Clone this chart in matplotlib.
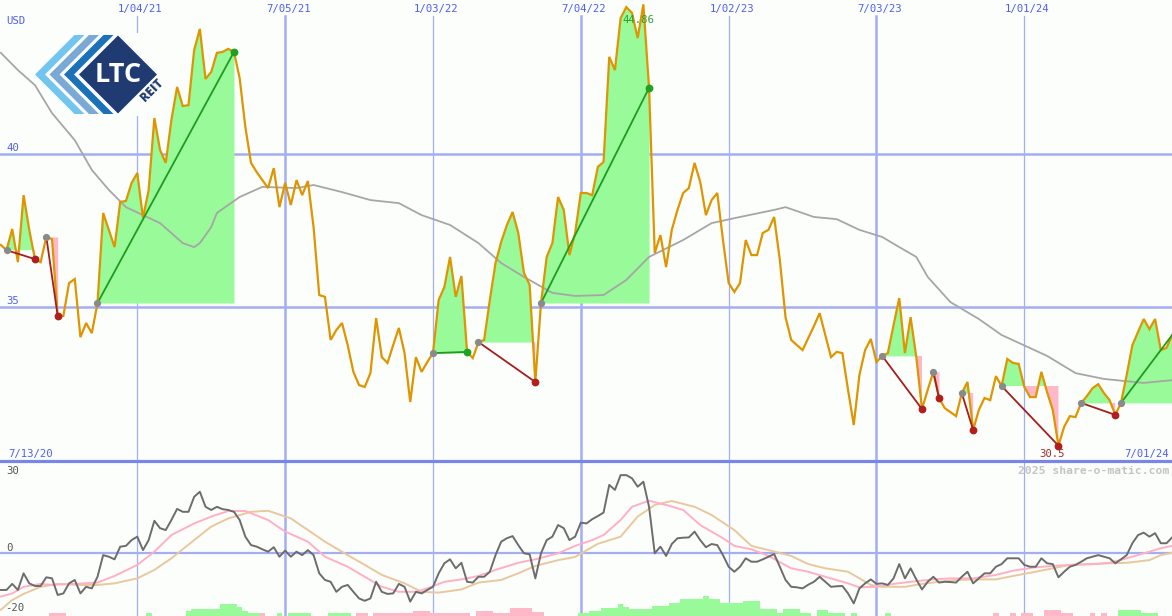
import numpy as np
import matplotlib
matplotlib.use("Agg")
import matplotlib.pyplot as plt
from matplotlib.patches import Polygon, Rectangle

# ---------------- data ----------------
weeks = np.arange(1, 208)          # weekly index, week 0 = 7/13/20
price = np.array([
    37.03, 36.86, 37.55, 36.47, 38.65, 37.52, 36.57, 36.47, 37.29, 37.22,
    34.72, 34.72, 35.79, 35.92, 34.03, 34.49, 34.16, 35.14, 38.07, 37.52,
    36.96, 38.43, 38.46, 39.05, 39.37, 37.91, 38.82, 41.16, 40.12, 39.70,
    41.10, 42.17, 41.55, 41.58, 43.37, 44.06, 42.43, 42.66, 43.28, 43.31,
    43.41, 43.31, 42.46, 40.87, 39.70, 39.40, 39.14, 38.88, 39.53, 38.26,
    39.05, 38.33, 39.14, 38.65, 39.11, 37.61, 35.40, 35.34, 33.94, 34.26,
    34.49, 33.77, 32.90, 32.47, 32.41, 32.86, 34.65, 33.38, 33.19, 33.77,
    34.33, 33.51, 31.92, 33.38, 32.90, 33.22, 33.51, 35.24, 35.66, 36.64,
    35.34, 36.02, 33.55, 33.35, 33.87, 33.94, 35.24, 36.44, 37.13, 37.68,
    38.10, 37.42, 36.12, 35.73, 32.57, 35.14, 36.64, 37.09, 38.59, 38.17,
    36.70, 37.42, 38.72, 38.72, 38.65, 39.57, 39.73, 43.15, 42.72, 44.41,
    44.77, 44.58, 43.76, 44.86, 42.14, 36.77, 37.35, 36.31, 37.52, 38.17,
    38.72, 38.88, 39.70, 39.08, 38.00, 38.49, 38.72, 37.19, 35.79, 35.50,
    35.79, 37.19, 36.70, 36.70, 37.42, 37.52, 37.94, 36.54, 34.68, 33.94,
    33.77, 33.61, 34.00, 34.39, 34.81, 34.10, 33.38, 33.55, 33.51, 32.31,
    31.17, 32.80, 33.61, 33.97, 33.22, 33.42, 33.51, 34.42, 35.30, 33.51,
    34.68, 33.38, 31.69, 32.31, 32.90, 32.05, 31.72, 31.59, 31.46, 32.21,
    32.57, 31.01, 31.66, 32.05, 31.98, 32.76, 32.44, 33.32, 33.19, 33.16,
    32.41, 32.08, 32.08, 32.90, 32.24, 31.66, 30.50, 31.11, 31.46, 31.43,
    31.89, 32.11, 32.37, 32.50, 32.21, 31.98, 31.50, 31.89, 32.80, 33.77,
    34.20, 34.62, 34.29, 34.62, 33.61, 33.68, 34.10])

ma_weeks = [1, 4, 7, 10, 14, 17, 20, 23, 29, 33, 35, 36, 38, 39, 43, 47, 53, 56,
            61, 66, 71, 75, 80, 85, 89, 93, 98, 102, 107, 111, 115, 121, 126,
            131, 137, 139, 144, 148, 152, 156, 159, 162, 164, 168, 173, 177,
            185, 190, 195, 202, 207]
ma_vals = [43.28, 42.72, 42.23, 41.32, 40.44, 39.47, 38.82, 38.26, 37.74, 37.09,
           36.96, 37.09, 37.61, 38.07, 38.59, 38.92, 38.88, 38.98, 38.75, 38.49,
           38.39, 38.00, 37.68, 37.09, 36.44, 35.99, 35.47, 35.37, 35.40, 35.89,
           36.64, 37.19, 37.74, 37.94, 38.17, 38.26, 37.94, 37.87, 37.52, 37.29,
           36.96, 36.64, 35.99, 35.17, 34.62, 34.10, 33.42, 32.86, 32.67, 32.54,
           32.63]

# trend segments (start week, end week)
trend_start = [2, 9, 18, 77, 85, 96, 156, 165, 170, 177, 191, 198]
trend_end = [7, 11, 42, 83, 95, 115, 163, 166, 172, 187, 197, 207]

osc = np.array([
    -14.0, -14.0, -11.7, -14.0, -7.7, -11.5, -12.5, -12.5, -9.2, -9.6,
    -15.9, -15.3, -11.5, -10.2, -15.3, -12.8, -13.4, -9.0, -0.8, -1.4,
    -2.4, 2.4, 2.7, 4.9, 6.2, 1.1, 4.9, 12.2, 9.4, 8.7,
    12.5, 16.7, 15.6, 15.6, 21.3, 23.2, 17.5, 16.3, 17.5, 16.6,
    16.3, 15.6, 12.5, 6.2, 3.0, 2.4, 1.4, 0.5, 2.2, -1.4,
    0.9, -1.4, 0.5, -0.8, 1.1, -0.8, -7.7, -10.2, -10.9, -14.7,
    -12.8, -12.1, -14.7, -17.2, -18.1, -17.2, -10.9, -14.7, -15.5, -15.3,
    -11.7, -12.8, -18.4, -14.7, -15.3, -14.0, -12.8, -7.7, -3.9, -2.4,
    -5.8, -3.7, -10.9, -11.2, -9.0, -9.0, -7.1, -0.8, 4.3, 5.6,
    6.4, 3.0, -0.1, -0.5, -9.6, -0.1, 4.9, 6.2, 10.6, 9.4,
    4.9, 6.2, 11.5, 11.2, 12.8, 14.0, 15.3, 25.8, 23.9, 29.5,
    29.5, 28.3, 25.1, 27.0, 17.5, -0.1, 2.4, -1.1, 3.4, 5.6,
    5.8, 5.9, 8.1, 4.9, 2.2, 3.4, 3.0, -0.8, -5.2, -7.1,
    -5.2, -2.0, -3.3, -3.3, -2.4, -1.4, -0.4, -5.2, -10.2, -12.8,
    -13.0, -13.4, -12.0, -10.9, -9.0, -10.9, -12.8, -12.6, -12.5, -15.3,
    -19.1, -13.4, -11.5, -10.0, -11.7, -11.5, -12.1, -9.6, -4.2, -9.6,
    -5.8, -10.0, -13.8, -10.9, -9.0, -11.2, -10.9, -11.0, -11.2, -9.0,
    -7.1, -11.5, -9.6, -7.7, -7.7, -5.2, -4.2, -2.0, -2.0, -2.0,
    -4.5, -5.2, -5.2, -2.0, -3.9, -4.2, -9.2, -7.1, -5.2, -4.5,
    -3.3, -2.0, -1.4, -0.8, -1.4, -2.0, -3.9, -2.4, -0.8, 3.7,
    6.8, 7.7, 6.2, 7.5, 3.7, 3.7, 5.9])

sig_pink_weeks = [1, 3, 5, 8, 10, 14, 18, 21, 25, 28, 31, 35, 38, 41, 44, 48, 51,
                  55, 58, 62, 65, 68, 71, 74, 76, 79, 82, 85, 88, 92, 95, 99, 102,
                  105, 107, 110, 112, 115, 118, 121, 124, 128, 130, 133, 136, 140,
                  143, 146, 150, 152, 155, 158, 161, 165, 168, 172, 176, 179, 183,
                  186, 189, 193, 196, 199, 203, 205, 207]
sig_pink_vals = [-16.5, -15.3, -12.8, -11.7, -12.1, -11.7, -11.2, -8.7, -4.5, 0.5,
                 6.8, 11.2, 13.8, 15.9, 15.9, 12.5, 8.1, 4.3, -1.4, -5.2,
                 -9.0, -12.8, -14.7, -14.7, -13.4, -10.9, -10.0, -8.7, -6.4, -3.7,
                 -2.4, -0.1, 2.7, 4.9, 6.8, 12.5, 17.5, 19.8, 18.2, 16.3,
                 10.6, 5.6, 2.7, 1.4, -1.1, -5.8, -7.1, -9.0, -11.5, -13.0,
                 -12.8, -11.7, -10.9, -10.0, -9.6, -9.6, -8.3, -6.7, -5.4, -4.9,
                 -4.5, -4.2, -3.7, -2.0, 0.5, 1.8, 2.7]

sig_tan_weeks = [1, 3, 5, 8, 11, 15, 18, 21, 25, 28, 31, 35, 38, 41, 45, 48, 52, 55,
                 58, 62, 65, 68, 72, 75, 78, 82, 85, 89, 92, 95, 99, 102, 104, 106,
                 110, 113, 116, 119, 123, 126, 130, 133, 136, 140, 143, 146, 150,
                 154, 156, 160, 163, 166, 169, 173, 176, 179, 183, 186, 189, 193,
                 196, 199, 203, 205, 207]
sig_tan_vals = [-21.5, -17.8, -15.5, -12.8, -11.7, -12.1, -12.1, -11.5, -9.6, -6.4,
                -2.0, 4.9, 10.0, 13.1, 15.6, 16.0, 13.1, 8.7, 4.3, -0.8,
                -4.5, -8.3, -11.5, -14.7, -15.0, -13.8, -11.2, -10.2, -7.7, -4.9,
                -2.7, -1.5, 1.0, 3.5, 6.2, 13.8, 18.2, 19.7, 17.5, 14.4,
                8.7, 2.7, 1.1, -1.1, -4.2, -5.8, -7.1, -12.1, -12.8, -12.8,
                -11.7, -10.9, -10.2, -10.0, -10.0, -8.7, -7.1, -5.8, -4.5, -4.2,
                -3.9, -3.7, -2.7, -0.8, 0.1]

bars = np.array([
    0, 0, 0, 0, 0, 0, 0, 0, 0, -1.0,
    -1.0, -1.0, 0, 0, 0, 0, 0, 0, 0, 0,
    0, 0, 0, 0, 0, 0, 1.0, 0, 0, 0,
    0, 0, 0, 2.0, 2.65, 2.65, 2.65, 2.65, 2.65, 4.5,
    4.5, 4.5, 3.5, 2.0, 1.25, 1.25, -1.0, 0, 0, 1.0,
    0, 1.25, 1.25, 1.25, 1.25, 0, 0, 0, 1.25, 1.25,
    1.25, 1.25, 0, -1.0, -1.0, 0, -1.0, -1.0, -1.0, -1.0,
    -1.0, -1.0, -1.0, -1.9, -1.9, -1.9, -1.0, -1.0, -1.0, -1.0,
    -1.0, -1.25, -1.25, 0, -1.9, -1.9, -1.9, -1.0, -1.0, -1.0,
    -3.0, -3.0, -3.0, -3.0, -1.5, -1.5, 0, 0, 0, 0,
    0, 0, 1.0, 1.0, 2.0, 2.0, 2.9, 2.9, 2.9, 4.5,
    3.5, 2.5, 2.5, 2.5, 2.5, 3.8, 3.8, 3.8, 5.0, 5.0,
    6.3, 6.3, 6.3, 6.3, 7.6, 6.3, 6.3, 4.8, 4.8, 4.8,
    4.8, 5.7, 5.7, 5.7, 2.5, 2.5, 2.5, 1.25, 2.5, 2.5,
    2.5, 1.25, 1.25, 0, 2.3, 2.3, 1.25, 1.25, 1.25, 0,
    1.25, 0, 0, 0, 0, 0, 1.25, 0, 0, 0,
    0, 0, 0, 0, 0, 0, 0, 0, 0, 0,
    0, 0, 0, 0, 0, -1.25, 0, 0, -1.25, 0,
    -1.25, -1.25, 0, 0, -2.3, -2.3, -2.3, -1.25, -1.25, 0,
    0, 0, -1.25, 0, -1.25, 0, 0, 2.3, 2.3, 2.3,
    2.3, 1.25, 1.25, 1.25, 0, 0, 0])

grid_weeks = [25, 51, 77, 103, 129, 155, 181]
grid_labels = ["1/04/21", "7/05/21", "1/03/22", "7/04/22", "1/02/23", "7/03/23", "1/01/24"]
start_label, end_label = "7/13/20", "7/01/24"
price_ticks = [40, 35]
osc_top_label, osc_zero_label, osc_bottom_label = "30", "0", "-20"
currency = "USD"
watermark = "2025 share-o-matic.com"

# ---------------- style ----------------
W, H, DPI = 1172, 616, 100
BG = "#FCFEFC"
GRID = "#A4AEF2"
GRID_DARK = "#7886E8"
LBL = "#4F5FF0"
MONO = "DejaVu Sans Mono"
FS = 7.7
GREEN_FILL = "#98FA98"
PINK_FILL = "#FFB8C8"
XMIN, XMAX = 0.853, 206.97

fig = plt.figure(figsize=(W / DPI, H / DPI), dpi=DPI)
fig.patch.set_facecolor(BG)
MAIN_H = 461
ax = fig.add_axes([0, (H - MAIN_H) / H, 1, MAIN_H / H])
ax2 = fig.add_axes([0, 0, 1, (H - MAIN_H) / H])
for a in (ax, ax2):
    a.set_facecolor(BG)
    a.set_xlim(XMIN, XMAX)
    a.set_xticks([]); a.set_yticks([])
    for s in a.spines.values():
        s.set_visible(False)
ax.set_ylim(30, 45)
ax2.set_ylim(-23.86, 34.85)

# grid
for gw, gl in zip(grid_weeks, grid_labels):
    thick = gl.startswith("7/")
    lw = 1.8 if thick else 0.9
    ax.axvline(gw, ymin=0, ymax=(MAIN_H - 16) / MAIN_H, color=GRID, lw=lw, zorder=1)
    ax2.axvline(gw, color=GRID, lw=lw, zorder=1)
    ax.annotate(gl, xy=(gw, 1), xycoords=("data", "axes fraction"),
                xytext=(3, -9), textcoords="offset pixels", ha="center", va="center",
                color=LBL, fontsize=FS, family=MONO)
for pt in price_ticks:
    ax.axhline(pt, color=GRID, lw=1.8, zorder=1)
    ax.annotate(str(pt), xy=(0, pt), xycoords=("axes fraction", "data"),
                xytext=(6, 6), textcoords="offset pixels", ha="left", va="center",
                color=LBL, fontsize=FS, family=MONO)
ax2.axhline(0, color=GRID, lw=1.6, zorder=1)

ax.annotate(currency, xy=(0, 1), xycoords="axes fraction", xytext=(6, -21),
            textcoords="offset pixels", ha="left", va="center", color=LBL,
            fontsize=FS, family=MONO)
ax.annotate(start_label, xy=(0, 30), xycoords=("axes fraction", "data"),
            xytext=(8, 7.5), textcoords="offset pixels", ha="left", va="center",
            color=LBL, fontsize=FS, family=MONO)
ax.annotate(end_label, xy=(1, 30), xycoords=("axes fraction", "data"),
            xytext=(-3, 7.5), textcoords="offset pixels", ha="right", va="center",
            color=LBL, fontsize=FS, family=MONO)

# trend fills
for ws, we in zip(trend_start, trend_end):
    m = (weeks >= ws) & (weeks <= we)
    xs, ys = weeks[m], price[m]
    lvl = price[ws - 1]
    ax.fill_between(xs, ys, lvl, where=ys >= lvl, interpolate=True,
                    color=GREEN_FILL, lw=0, zorder=2)
    ax.fill_between(xs, ys, lvl, where=ys <= lvl, interpolate=True,
                    color=PINK_FILL, lw=0, zorder=2)

# MA and price
ax.plot(ma_weeks, ma_vals, color="#A6A6A6", lw=1.3, zorder=3)
ax.plot(weeks, price, color="#DE9500", lw=1.6, zorder=4, solid_joinstyle="miter")

for ws, we in zip(trend_start, trend_end):
    p0, p1 = price[ws - 1], price[we - 1]
    up = p1 >= p0
    lc = "#209A20" if up else "#A31E1E"
    ax.plot([ws, we], [p0, p1], color=lc, lw=1.3, zorder=5)
    ax.plot(ws, p0, "o", color="#8A8A8A", ms=4.2, zorder=6)
    if we < weeks[-1]:
        ax.plot(we, p1, "o", color=("#22A022" if up else "#B01E1E"), ms=4.6, zorder=6)

imax, imin = int(np.argmax(price)), int(np.argmin(price))
ax.annotate(f"{price[imax]:g}", xy=(weeks[imax], price[imax]), xytext=(-5, -16),
            textcoords="offset pixels", ha="center", va="center", color="#2E9E2E",
            fontsize=FS, family=MONO, zorder=7)
ax.annotate(f"{price[imin]:g}", xy=(weeks[imin], price[imin]), xytext=(-6, -8.5),
            textcoords="offset pixels", ha="center", va="center", color="#A52A2A",
            fontsize=FS, family=MONO, zorder=7)

# lower panel
ybot = ax2.get_ylim()[0]
bcol = [GREEN_FILL if b > 0 else PINK_FILL for b in bars]
ax2.bar(weeks, np.abs(bars), bottom=ybot, width=1.0, color=bcol, lw=0, zorder=2)
ax2.plot(sig_tan_weeks, sig_tan_vals, color="#E8C89C", lw=1.4, zorder=3)
ax2.plot(sig_pink_weeks, sig_pink_vals, color="#FFB0C4", lw=1.4, zorder=3)
ax2.plot(weeks, osc, color="#6C6C6C", lw=1.4, zorder=4)

ax2.annotate(osc_top_label, xy=(0, 1), xycoords="axes fraction", xytext=(6, -10.5),
             textcoords="offset pixels", ha="left", va="center", color="#555555",
             fontsize=FS, family=MONO)
ax2.annotate(osc_zero_label, xy=(0, 0), xycoords=("axes fraction", "data"),
             xytext=(6, 5), textcoords="offset pixels", ha="left", va="center",
             color="#555555", fontsize=FS, family=MONO)
ax2.annotate(osc_bottom_label, xy=(0, 0), xycoords="axes fraction", xytext=(5, 8),
             textcoords="offset pixels", ha="left", va="center", color="#555555",
             fontsize=FS, family=MONO)
ax2.annotate(watermark, xy=(1, 1), xycoords="axes fraction", xytext=(-3, -10.5),
             textcoords="offset pixels", ha="right", va="center", color="#C4C4C4",
             fontsize=8.2, family=MONO, weight="bold")

# ---------------- overlay: panel boundary and logo ----------------
ov = fig.add_axes([0, 0, 1, 1])
ov.set_xlim(0, W); ov.set_ylim(H, 0); ov.axis("off")
ov.axhline(MAIN_H, color=GRID_DARK, lw=2.3)
ov.add_patch(Rectangle((96, 33), 71, 83, color=BG, lw=0))
yc, L, bw = 74.5, 39.5, 10
for x0, col in [(35, "#72C5EE"), (49.5, "#7BA9D6"), (64, "#1B72B8")]:
    ov.add_patch(Polygon([(x0, yc), (x0 + L, yc - L), (x0 + L + bw, yc - L),
                          (x0 + bw, yc), (x0 + L + bw, yc + L), (x0 + L, yc + L)],
                         closed=True, color=col, lw=0))
ov.add_patch(Polygon([(79, yc), (118, yc - 39), (157, yc), (118, yc + 39)],
                     closed=True, color="#203A72", lw=0))
ov.text(118.5, 75, "LTC", color="white", fontsize=19.5, family="Open Sans",
        weight="bold", ha="center", va="center")
ov.text(152.5, 90.5, "REIT", color="#203A72", fontsize=8.8, family="Open Sans",
        weight="heavy", ha="center", va="center", rotation=45)

fig.savefig("out.png", dpi=DPI, facecolor=BG)
